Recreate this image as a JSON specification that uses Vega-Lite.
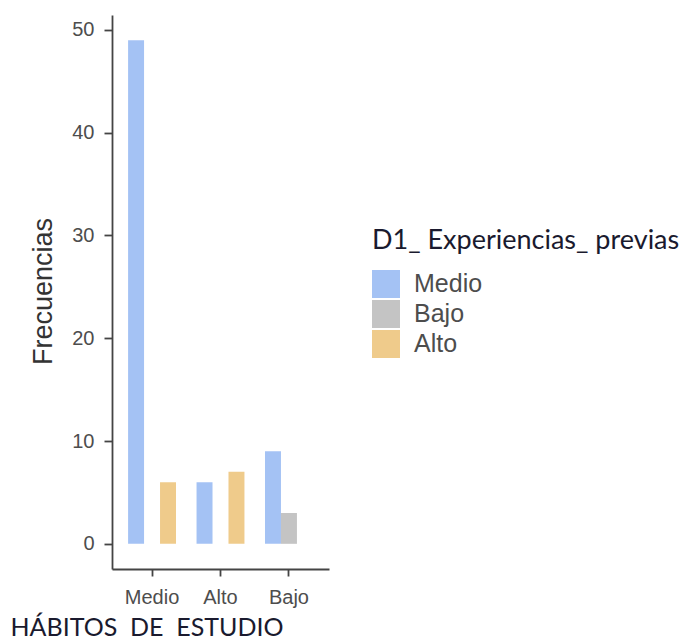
{
  "$schema": "https://vega.github.io/schema/vega-lite/v6.json",
  "autosize": "none",
  "width": 217,
  "height": 554,
  "padding": {"left": 112, "top": 15, "right": 362, "bottom": 75},
  "background": "white",
  "config": {"view": {"stroke": null}},
  "data": {
    "values": [
      {"habitos": "Medio", "experiencia": "Medio", "frecuencia": 49},
      {"habitos": "Medio", "experiencia": "Alto", "frecuencia": 6},
      {"habitos": "Alto", "experiencia": "Medio", "frecuencia": 6},
      {"habitos": "Alto", "experiencia": "Alto", "frecuencia": 7},
      {"habitos": "Bajo", "experiencia": "Medio", "frecuencia": 9},
      {"habitos": "Bajo", "experiencia": "Bajo", "frecuencia": 3}
    ]
  },
  "mark": {"type": "bar", "opacity": 1},
  "encoding": {
    "x": {
      "field": "habitos",
      "type": "nominal",
      "sort": ["Medio", "Alto", "Bajo"],
      "scale": {"paddingInner": 0.3, "paddingOuter": 0.235},
      "axis": {
        "title": "HÁBITOS\u00a0\u00a0DE\u00a0\u00a0ESTUDIO",
        "titleFont": "Lato",
        "titleFontSize": 25,
        "titleFontWeight": "normal",
        "titleColor": "#1a1a2e",
        "titleAnchor": "start",
        "titleAlign": "left",
        "titleBaseline": "middle",
        "titleX": -102,
        "titleY": 58,
        "labelAngle": 0,
        "labelFont": "Liberation Sans",
        "labelFontSize": 20,
        "labelColor": "#4d4d4d",
        "labelPadding": 11,
        "tickSize": 7,
        "tickColor": "#444444",
        "tickWidth": 1.8,
        "domainColor": "#444444",
        "domainWidth": 1.8
      }
    },
    "xOffset": {
      "field": "experiencia",
      "type": "nominal",
      "sort": ["Medio", "Bajo", "Alto"],
      "scale": {"domain": ["Medio", "Bajo", "Alto"], "paddingInner": 0, "paddingOuter": 0}
    },
    "y": {
      "field": "frecuencia",
      "type": "quantitative",
      "scale": {"domain": [-2.45, 51.45], "nice": false, "zero": false},
      "axis": {
        "title": "Frecuencias",
        "titleFont": "Liberation Sans",
        "titleFontSize": 27,
        "titleFontWeight": "normal",
        "titleColor": "#333333",
        "titleX": -69,
        "titleY": 276,
        "titleAngle": -90,
        "titleAlign": "center",
        "titleBaseline": "middle",
        "values": [0, 10, 20, 30, 40, 50],
        "grid": false,
        "labelFont": "Liberation Sans",
        "labelFontSize": 20,
        "labelColor": "#4d4d4d",
        "labelPadding": 10,
        "tickSize": 8,
        "tickColor": "#444444",
        "tickWidth": 1.8,
        "domainColor": "#444444",
        "domainWidth": 1.8
      }
    },
    "y2": {"datum": 0},
    "color": {
      "field": "experiencia",
      "type": "nominal",
      "scale": {"domain": ["Medio", "Bajo", "Alto"], "range": ["#a4c2f4", "#c4c4c4", "#efcb8b"]},
      "legend": {
        "title": "D1_ Experiencias_ previas",
        "orient": "none",
        "legendX": 260,
        "legendY": 213,
        "titleFont": "Lato",
        "titleFontSize": 27,
        "titleFontWeight": "normal",
        "titleColor": "#1a1a2e",
        "titlePadding": 15,
        "titleLimit": 600,
        "symbolType": "square",
        "symbolSize": 784,
        "symbolStrokeWidth": 0,
        "symbolOpacity": 1,
        "rowPadding": 2,
        "labelFont": "Liberation Sans",
        "labelFontSize": 25,
        "labelColor": "#4d4d4d",
        "labelOffset": 14
      }
    }
  }
}
